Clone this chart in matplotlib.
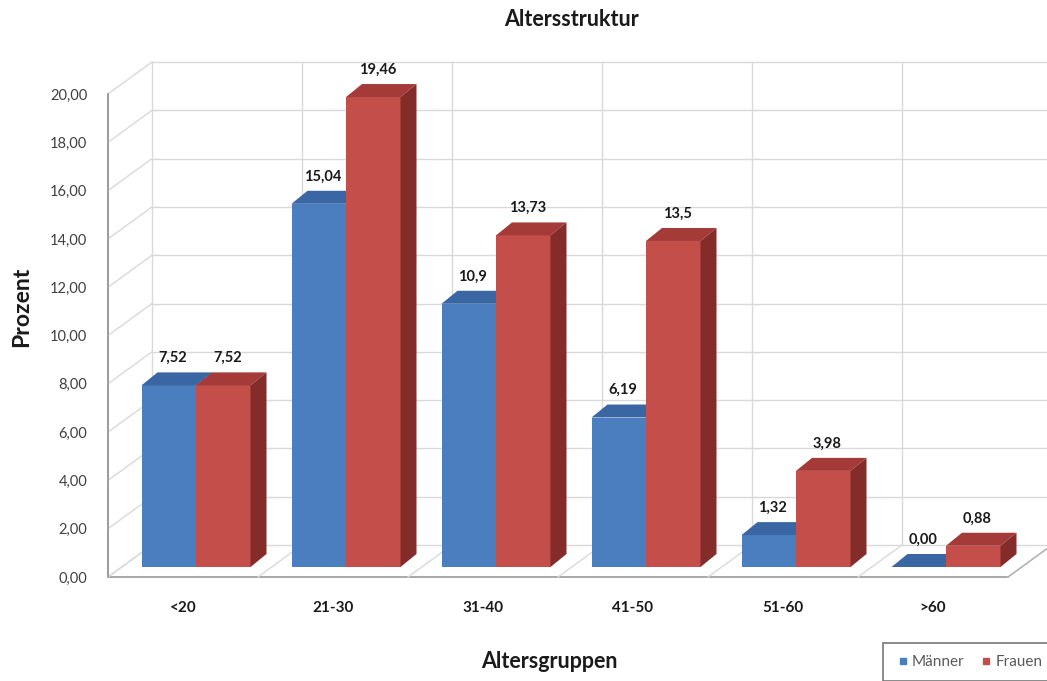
import matplotlib

matplotlib.use("Agg")
import matplotlib.pyplot as plt
from matplotlib.patches import Polygon
from matplotlib.lines import Line2D

plt.rcParams["font.family"] = ["Lato", "DejaVu Sans"]

# Altersstruktur data (percent per age group)
age_groups = ["<20", "21-30", "31-40", "41-50", "51-60", ">60"]
maenner = [7.52, 15.04, 10.9, 6.19, 1.32, 0.00]
frauen = [7.52, 19.46, 13.73, 13.5, 3.98, 0.88]
maenner_labels = ["7,52", "15,04", "10,9", "6,19", "1,32", "0,00"]
frauen_labels = ["7,52", "19,46", "13,73", "13,5", "3,98", "0,88"]
y_ticks = [0, 2, 4, 6, 8, 10, 12, 14, 16, 18, 20]

W, H = 1047, 681
PX_PER_UNIT = 483 / 20.0  # vertical pixels per percent
PX_PER_CAT = 150.0

# bar plane (front face of bars), in pixels
PLANE_X0, PLANE_Y0 = 121, 567
# offsets of front frame and back wall relative to bar plane (pixels)
FRONT_OFF = (-13, 10)
BACK_OFF = (31, -22)
BAR_DEPTH = (16, -13)

BLUE = "#4a7ebf"
BLUE_TOP = "#3a66a3"
BLUE_SIDE = "#2f5488"
RED = "#c34e4a"
RED_TOP = "#a53b38"
RED_SIDE = "#832c2a"
GRID = "#d9d9d9"
TEXT = "#1a1a1a"


def _axes_rect(dx_px, dy_px):
    left = (PLANE_X0 + dx_px) / W
    bottom = (H - (PLANE_Y0 + dy_px)) / H
    return [left, bottom, 6 * PX_PER_CAT / W, 20 * PX_PER_UNIT / H]


def _off(dpx):
    # pixel offset -> data offset in the bar axes
    return dpx[0] / PX_PER_CAT, -dpx[1] / PX_PER_UNIT


fig = plt.figure(figsize=(W / 100, H / 100), dpi=100)
fig.patch.set_facecolor("white")

# back wall with grid
ax_back = fig.add_axes(_axes_rect(*BACK_OFF), zorder=0)
ax_back.set_xlim(0, 6)
ax_back.set_ylim(0, 20)
for v in y_ticks:
    ax_back.axhline(v, color=GRID, lw=1.0, clip_on=False)
for k in range(7):
    ax_back.axvline(k, color=GRID, lw=1.0, clip_on=False)
ax_back.axis("off")

# front frame carrying the tick labels
ax_front = fig.add_axes(_axes_rect(*FRONT_OFF), zorder=1)
ax_front.patch.set_alpha(0)
ax_front.set_xlim(0, 6)
ax_front.set_ylim(0, 20)
ax_front.set_yticks(y_ticks)
ax_front.set_yticklabels([f"{v:.2f}".replace(".", ",") for v in y_ticks],
                         fontsize=10.5, color="#404040")
ax_front.set_xticks([k + 0.5 for k in range(6)])
ax_front.set_xticklabels(age_groups, fontsize=11, fontweight="bold", color=TEXT)
ax_front.tick_params(axis="both", length=0)
ax_front.tick_params(axis="y", pad=15)
ax_front.tick_params(axis="x", pad=17)
for side in ["top", "right"]:
    ax_front.spines[side].set_visible(False)
for side in ["left", "bottom"]:
    ax_front.spines[side].set_color("#9a9a9a")
    ax_front.spines[side].set_linewidth(1.2)

fig.text(22 / W, 1 - 307 / H, "Prozent", rotation=90, ha="center", va="center",
         fontsize=16.5, fontweight="bold", color=TEXT)
fig.text(549 / W, 1 - 662 / H, "Altersgruppen", ha="center", va="center",
         fontsize=15.5, fontweight="bold", color=TEXT)
fig.text(572 / W, 1 - 20 / H, "Altersstruktur", ha="center", va="center",
         fontsize=15.5, fontweight="bold", color=TEXT)

# bars
ax = fig.add_axes(_axes_rect(0, 0), zorder=2)
ax.patch.set_alpha(0)
ax.set_xlim(0, 6)
ax.set_ylim(0, 20)
ax.axis("off")

fx, fy = _off(FRONT_OFF)
bx, by = _off(BACK_OFF)
ddx, ddy = _off(BAR_DEPTH)

# side wall and floor lines
for v in y_ticks:
    ax.plot([fx, bx], [v + fy, v + by], color=GRID, lw=1.0, clip_on=False, zorder=1)
for k in range(7):
    ax.plot([k + fx, k + bx], [fy, by], color=GRID, lw=1.0, clip_on=False, zorder=1)
ax.plot([6 + fx, 6 + bx], [fy, by], color="#b0b0b0", lw=1.0, clip_on=False, zorder=1)
ax.plot([fx, fx], [fy, 20 + fy], color="#9a9a9a", lw=1.2, clip_on=False, zorder=1)

bar_w = 109 / PX_PER_CAT / 2
centers = [k + 0.5 for k in range(6)]
x_m = [c - bar_w / 2 for c in centers]
x_f = [c + bar_w / 2 for c in centers]


def _draw_bars(xs, vals, labels, face, top, side):
    ax.bar(xs, vals, width=bar_w, color=face, linewidth=0, zorder=3)
    for x, v, lab in zip(xs, vals, labels):
        l, r = x - bar_w / 2, x + bar_w / 2
        ax.add_patch(Polygon([(l, v), (r, v), (r + ddx, v + ddy), (l + ddx, v + ddy)],
                             closed=True, facecolor=top, edgecolor="none", zorder=3,
                             clip_on=False))
        if v > 0:
            ax.add_patch(Polygon([(r, 0), (r + ddx, ddy), (r + ddx, v + ddy), (r, v)],
                                 closed=True, facecolor=side, edgecolor="none", zorder=3,
                                 clip_on=False))
        ax.text(x + ddx / 4, v + ddy + 0.3, lab, ha="center", va="bottom",
                fontsize=10.5, fontweight="bold", color=TEXT, zorder=5)


for i in range(6):
    _draw_bars([x_m[i]], [maenner[i]], [maenner_labels[i]], BLUE, BLUE_TOP, BLUE_SIDE)
    _draw_bars([x_f[i]], [frauen[i]], [frauen_labels[i]], RED, RED_TOP, RED_SIDE)

handles = [
    Line2D([], [], marker="s", ls="none", color=BLUE, markersize=5, label="Männer"),
    Line2D([], [], marker="s", ls="none", color=RED, markersize=5, label="Frauen"),
]
leg = fig.legend(handles=handles, loc="upper left", bbox_to_anchor=(883 / W, 1 - 643 / H),
                 ncol=2, fontsize=11, frameon=True, fancybox=False, handletextpad=0.1,
                 columnspacing=0.9, borderpad=0.8, borderaxespad=0.0,
                 handlelength=1.0, labelcolor="#595959")
leg.get_frame().set_edgecolor("#555555")
leg.get_frame().set_linewidth(1.2)

fig.savefig("out.png", dpi=100)
plt.close(fig)
